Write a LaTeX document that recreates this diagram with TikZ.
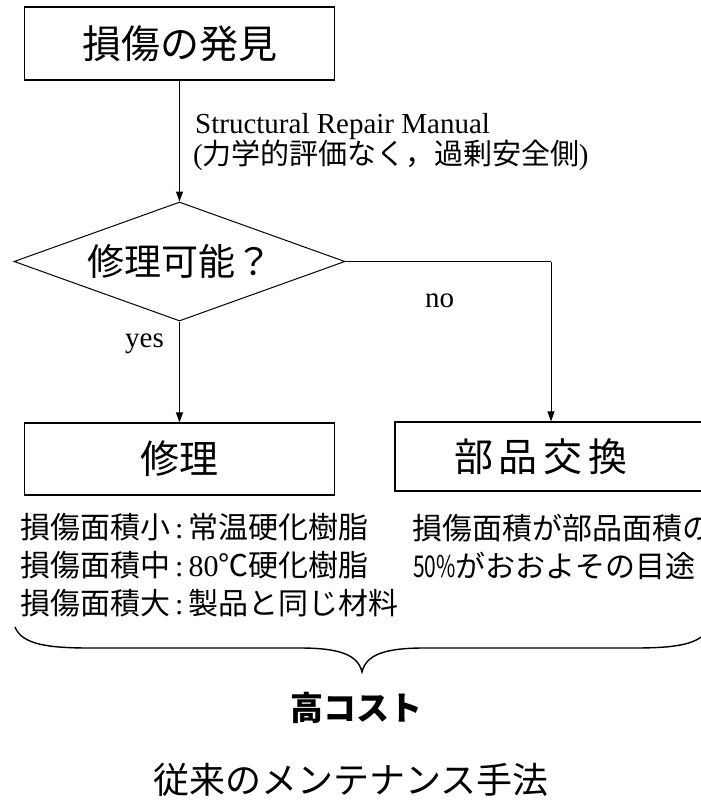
\documentclass[tikz,border=0pt]{standalone}
\usepackage{fontspec}
\usepackage{graphicx}
\setmainfont{Liberation Serif}
\newfontfamily\jp{Noto Sans CJK JP}
\usetikzlibrary{shapes.geometric,arrows.meta}
\newcommand\J[1]{{\jp #1}}
\begin{document}
\begin{tikzpicture}[x=1pt,y=-1pt,
  boxnode/.style={draw,line width=1.2pt,inner sep=0pt,font=\jp\fontsize{39}{39}\selectfont},
  arr/.style={line width=1pt,-{Triangle[length=10pt,width=7pt]}},
  conn/.style={line width=1pt},
  lbl/.style={inner sep=0pt,font=\fontsize{29}{29}\selectfont},
  row/.style={inner sep=0pt,anchor=west,font=\fontsize{30}{30}\selectfont}]
\useasboundingbox (0,0) rectangle (701,800);
\fill[white] (0,0) rectangle (701,800);
\clip (0,0) rectangle (701,800);

% top box
\node[boxnode,minimum width=310,minimum height=73] (find) at (179.5,43.5) {損傷の発見};
% diamond
\node[diamond,draw,line width=1pt,aspect=2.78,minimum width=331,minimum height=119,inner sep=0pt,
      font=\jp\fontsize{37}{37}\selectfont] (q) at (179.5,261.5) {修理可能？};
% repair box
\node[boxnode,minimum width=310,minimum height=72] (rep) at (179.5,459) {修理};
% replace box
\node[boxnode,minimum width=312,minimum height=69] (chg) at (551,456.5)
  {\hspace*{-20pt}部\hspace{6pt}品\hspace{6pt}交\hspace{6pt}換};
\coordinate (turn) at (chg.north |- q.east);

% connectors
\draw[arr] (find.south) -- (q.north);
\draw[arr] (q.south) -- (rep.north);
\draw[conn] (q.east) -- (turn);
\draw[arr] (turn) -- (chg.north);

% labels
\node[lbl,anchor=base west] (srm1) at (195,133) {Structural Repair Manual};
\node[lbl,anchor=base west] (srm2) at (193,164) {(\J{力学的評価なく，過剰安全側})};
\node[lbl,anchor=base west] (no) at (425,307) {no};
\node[lbl,anchor=base west] (yes) at (125,347) {yes};

% texts under boxes
\node[row] (l1) at (20,527) {\J{損傷面積小}\,:\,\J{常温硬化樹脂}};
\node[row] (l2) at (20,565) {\J{損傷面積中}\,:\,80\J{℃硬化樹脂}};
\node[row] (l3) at (20,603) {\J{損傷面積大}\,:\,\J{製品と同じ材料}};
\node[row] (r1) at (412,528) {\J{損傷面積が部品面積の}};
\node[row] (r2) at (413,566) {\J{\scalebox{0.7}[1]{50\%}がおおよその目途}};

% brace
\draw[line width=1.4pt] (15,627) .. controls (22,645) and (50,648) .. (90,648)
  -- (300,648) .. controls (340,648) and (358,655) .. (362,672)
  .. controls (366,655) and (384,648) .. (424,648)
  -- (634,648) .. controls (674,648) and (702,645) .. (709,627);

\node[inner sep=0pt,font=\jp\bfseries\fontsize{33}{33}\selectfont] (cost) at (356,708) {高コスト};
\node[inner sep=0pt,font=\jp\fontsize{36}{36}\selectfont] (title) at (351,780) {従来のメンテナンス手法};
\end{tikzpicture}
\end{document}
